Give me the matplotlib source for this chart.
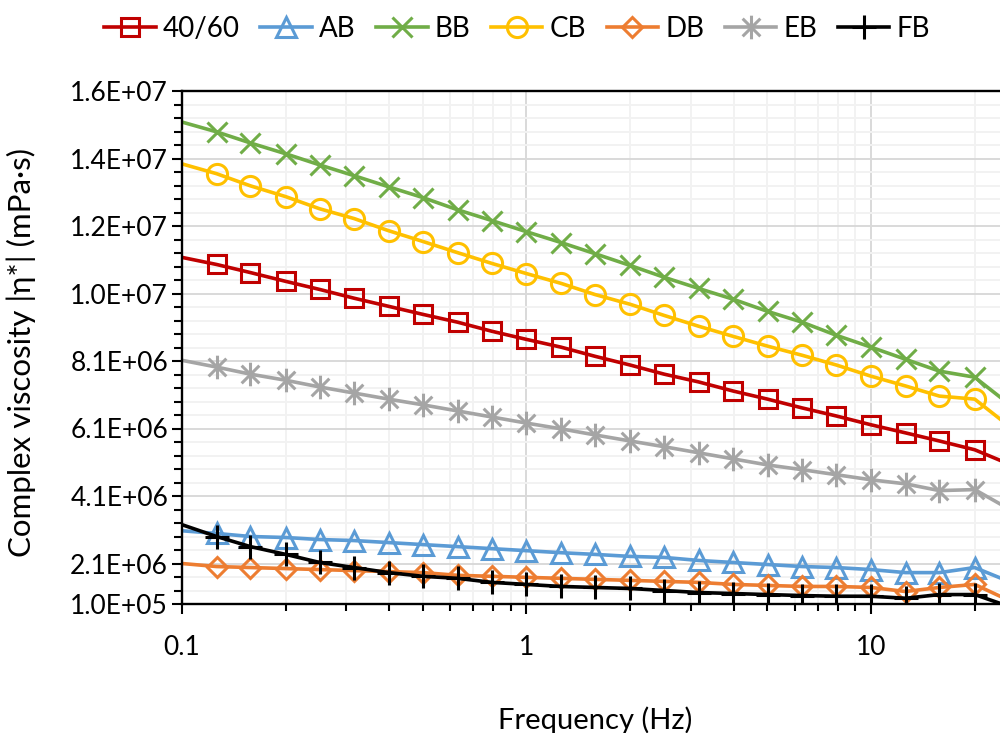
import numpy as np
import matplotlib
matplotlib.use('Agg')
import matplotlib.pyplot as plt
from matplotlib.ticker import MultipleLocator, LogLocator, NullFormatter, FixedLocator
from matplotlib.path import Path

plt.rcParams['font.family'] = ['Lato', 'DejaVu Sans']

# frequency sweep (Hz)
freq = [0.1, 0.126, 0.158, 0.2, 0.251, 0.316, 0.398, 0.501, 0.631, 0.794,
        1.0, 1.26, 1.58, 2.0, 2.51, 3.16, 3.98, 5.01, 6.31, 7.94,
        10.0, 12.6, 15.8, 20.0, 25.1]

# complex viscosity, in millions of mPa·s
s4060 = [11.17, 10.96, 10.72, 10.46, 10.22, 9.96, 9.72, 9.48, 9.25, 8.98,
         8.74, 8.51, 8.24, 7.98, 7.71, 7.48, 7.21, 6.97, 6.71, 6.47,
         6.21, 5.97, 5.73, 5.47, 5.05]
ab = [3.07, 2.99, 2.90, 2.87, 2.81, 2.78, 2.72, 2.66, 2.60, 2.54,
      2.48, 2.42, 2.37, 2.31, 2.28, 2.19, 2.13, 2.07, 2.01, 1.98,
      1.92, 1.83, 1.83, 1.98, 1.57]
bb = [15.18, 14.89, 14.56, 14.24, 13.91, 13.59, 13.26, 12.94, 12.58, 12.26,
      11.93, 11.61, 11.28, 10.93, 10.58, 10.25, 9.93, 9.57, 9.25, 8.86,
      8.51, 8.15, 7.80, 7.62, 6.83]
cb = [13.94, 13.65, 13.29, 12.97, 12.61, 12.32, 11.96, 11.64, 11.31, 10.99,
      10.69, 10.40, 10.07, 9.78, 9.45, 9.13, 8.83, 8.54, 8.27, 7.98,
      7.65, 7.36, 7.06, 6.97, 6.18]
db = [2.10, 2.01, 1.98, 1.95, 1.92, 1.89, 1.86, 1.83, 1.75, 1.72,
      1.69, 1.66, 1.63, 1.60, 1.57, 1.54, 1.48, 1.45, 1.42, 1.42,
      1.39, 1.27, 1.39, 1.48, 1.01]
eb = [8.12, 7.92, 7.71, 7.53, 7.33, 7.15, 6.97, 6.80, 6.62, 6.44,
      6.26, 6.09, 5.91, 5.73, 5.56, 5.38, 5.20, 5.02, 4.88, 4.73,
      4.58, 4.46, 4.26, 4.29, 3.72]
fb = [3.25, 2.90, 2.60, 2.37, 2.13, 1.98, 1.83, 1.72, 1.66, 1.54,
      1.48, 1.42, 1.39, 1.36, 1.30, 1.24, 1.21, 1.18, 1.15, 1.13,
      1.13, 1.07, 1.18, 1.18, 0.83]

names = ['40/60', 'AB', 'BB', 'CB', 'DB', 'EB', 'FB']
values = [s4060, ab, bb, cb, db, eb, fb]

ytick_values = [0.9e6, 2.1e6, 4.1e6, 6.1e6, 8.1e6, 10.1e6, 12.1e6, 14.1e6, 16.1e6]
ytick_labels = ['1.0E+05', '2.1E+06', '4.1E+06', '6.1E+06', '8.1E+06',
                '1.0E+07', '1.2E+07', '1.4E+07', '1.6E+07']
xtick_values = [0.1, 1, 10]
xtick_labels = ['0.1', '1', '10']

# excel-style star: vertical bar plus an X
star = Path([(0, -1), (0, 1), (-0.75, -0.75), (0.75, 0.75), (-0.75, 0.75), (0.75, -0.75)],
            [Path.MOVETO, Path.LINETO] * 3)

styles = [
    ('#C00000', 's', 13.5),
    ('#5B9BD5', '^', 14.5),
    ('#70AD47', 'x', 14.5),
    ('#FFC000', 'o', 14.5),
    ('#ED7D31', 'D', 10),
    ('#A5A5A5', star, 17),
    ('#000000', '+', 17),
]

fig = plt.figure(figsize=(10, 7.33), dpi=100)
ax = fig.add_axes([0.182, 129 / 733, 0.8268, 513 / 733])

handles = []
for name, vals, (col, mk, ms) in zip(names, values, styles):
    h, = ax.plot(freq, np.array(vals) * 1e6, color=col, lw=2.6, marker=mk, ms=ms,
                 mfc='none', mec=col, mew=2.2, markevery=slice(1, 24),
                 solid_joinstyle='round', label=name)
    handles.append(h)

ax.set_xscale('log')
ax.set_xlim(0.1, 25.12)
ax.set_ylim(0.9e6, 16.1e6)

ax.xaxis.set_major_locator(FixedLocator(xtick_values))
ax.set_xticklabels(xtick_labels)
ax.xaxis.set_minor_locator(LogLocator(base=10, subs=np.arange(2, 10)))
ax.xaxis.set_minor_formatter(NullFormatter())

ax.yaxis.set_major_locator(FixedLocator(ytick_values))
ax.set_yticklabels(ytick_labels)
ax.yaxis.set_minor_locator(MultipleLocator(0.4e6, offset=0.1e6))

ax.grid(which='major', color='#D9D9D9', lw=1.4)
ax.grid(which='minor', color='#F2F2F2', lw=1.4)
ax.set_axisbelow(True)

for side in ['left', 'bottom', 'top']:
    ax.spines[side].set_color('black')
    ax.spines[side].set_linewidth(1.7)
ax.spines['right'].set_visible(False)

ax.tick_params(axis='both', which='both', direction='out', color='black', width=1.5)
ax.tick_params(axis='y', which='major', length=7, pad=3, labelsize=19)
ax.tick_params(axis='y', which='minor', length=6)
ax.tick_params(axis='x', which='major', length=7, pad=15, labelsize=19)
ax.tick_params(axis='x', which='minor', length=5)

ax.set_ylabel('Complex viscosity |η*| (mPa·s)', fontsize=22.5)
ax.yaxis.set_label_coords(-0.177, 0.49)
ax.set_xlabel('Frequency (Hz)', fontsize=21, va='top')
ax.xaxis.set_label_coords(0.5, -0.2)

fig.legend(handles, names, loc='center', bbox_to_anchor=(0.517, 1 - 29 / 733), ncol=7,
           frameon=False, fontsize=20, handlelength=1.85, handletextpad=0.25,
           columnspacing=0.75)

fig.savefig('out.png', dpi=100)
